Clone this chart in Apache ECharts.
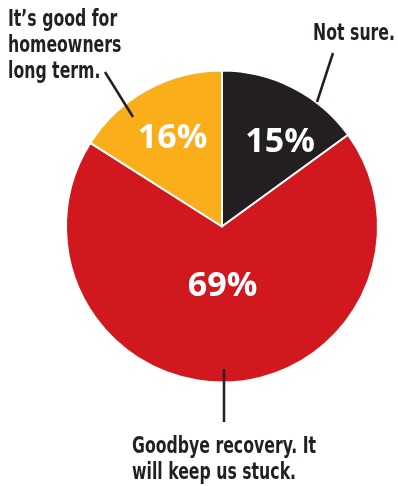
<!DOCTYPE html>
<html>
<head>
<meta charset="utf-8">
<script src="https://cdn.jsdelivr.net/npm/echarts@6/dist/echarts.min.js"></script>
<style>
  html, body { margin: 0; padding: 0; background: #fff; }
  #chart { width: 398px; height: 486px; }
</style>
</head>
<body>
<div id="chart"></div>
<script>
// Poll answers, clockwise from 12 o'clock
const answers = ['Not sure.', 'Goodbye recovery. It\nwill keep us stuck.', 'It\u2019s good for\nhomeowners\nlong term.']
const shares = [15, 69, 16]
const sliceColors = ['#231f20', '#d2181f', '#f9ae1a']

const CX = 222, CY = 226.5, R = 156

// where the percentage sits inside each slice (offset from centre)
const pctOffsets = [[58, -84.5], [0.5, 60], [-49.5, -88]]

// outside caption placement + leader line
const captionLayout = [
  { x: 395, y: 47, align: 'right', verticalAlign: 'bottom', line: [[333, 53], [317, 102]] },
  { x: 132, y: 434, align: 'left', verticalAlign: 'top', line: [[224, 422], [224, 369]] },
  { x: 8, y: 7, align: 'left', verticalAlign: 'top', line: [[105, 72], [133, 117]] }
]

// the original face is a bold condensed sans, squeeze DejaVu Condensed to match
const captionFont = 'bold 23px "DejaVu Sans Condensed", "DejaVu Sans", sans-serif'
const squeeze = 0.76

const chart = echarts.init(document.getElementById('chart'))

const pieData = shares.map((v, i) => ({
  value: v,
  name: answers[i],
  itemStyle: { color: sliceColors[i] }
}))

const option = {
  animation: false,
  graphic: answers.map((txt, i) => {
    const c = captionLayout[i]
    return {
      type: 'text',
      x: c.x,
      y: c.y,
      scaleX: squeeze,
      silent: true,
      z: 10,
      style: {
        text: txt,
        font: captionFont,
        fill: '#231f20',
        lineHeight: 26,
        textAlign: c.align,
        textVerticalAlign: c.verticalAlign
      }
    }
  }),
  series: [
    {
      type: 'pie',
      center: [CX, CY],
      radius: R,
      startAngle: 90,
      clockwise: true,
      silent: true,
      itemStyle: { borderColor: '#fff', borderWidth: 2 },
      label: {
        show: true,
        position: 'inside',
        formatter: '{c}%',
        color: '#fff',
        fontFamily: 'Open Sans',
        fontWeight: 'bold',
        fontSize: 34
      },
      labelLayout: (p) => ({
        x: CX + pctOffsets[p.dataIndex][0],
        y: CY + pctOffsets[p.dataIndex][1],
        align: 'center',
        verticalAlign: 'middle'
      }),
      data: pieData
    },
    {
      // invisible twin, only used for the leader lines
      type: 'pie',
      center: [CX, CY],
      radius: R,
      startAngle: 90,
      clockwise: true,
      silent: true,
      z: 3,
      itemStyle: { color: 'rgba(0,0,0,0)', borderWidth: 0 },
      label: {
        show: true,
        position: 'outside',
        formatter: '{b}',
        overflow: 'none',
        color: 'rgba(0,0,0,0)',
        fontSize: 23,
        lineHeight: 26
      },
      labelLine: {
        show: true,
        lineStyle: { color: '#231f20', width: 2.5 }
      },
      labelLayout: (p) => {
        const c = captionLayout[p.dataIndex]
        return {
          x: c.x,
          y: c.y,
          width: 240,
          align: c.align,
          verticalAlign: c.verticalAlign,
          labelLinePoints: c.line
        }
      },
      data: shares.map((v, i) => ({ value: v, name: answers[i] }))
    }
  ]
}

chart.setOption(option)
</script>
</body>
</html>
